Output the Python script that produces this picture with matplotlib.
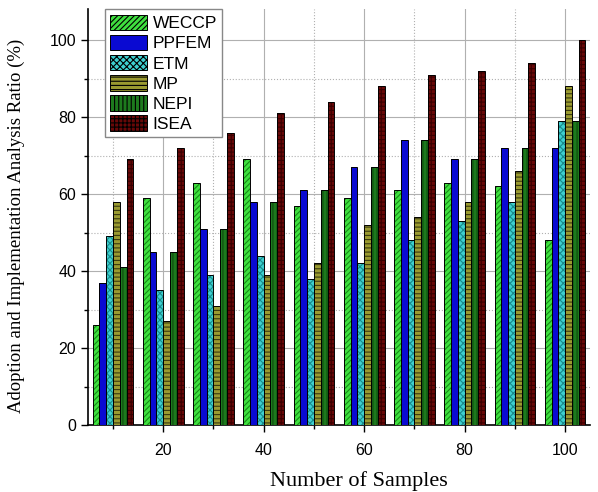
import matplotlib
matplotlib.use('Agg')
import matplotlib.pyplot as plt
from matplotlib.ticker import MultipleLocator
import numpy as np

samples = [10, 20, 30, 40, 50, 60, 70, 80, 90, 100]
methods = ['WECCP', 'PPFEM', 'ETM', 'MP', 'NEPI', 'ISEA']
weccp = [26, 59, 63, 69, 57, 59, 61, 63, 62, 48]
ppfem = [37, 45, 51, 58, 61, 67, 74, 69, 72, 72]
etm = [49, 35, 39, 44, 38, 42, 48, 53, 58, 79]
mp = [58, 27, 31, 39, 42, 52, 54, 58, 66, 88]
nepi = [41, 45, 51, 58, 61, 67, 74, 69, 72, 79]
isea = [69, 72, 76, 81, 84, 88, 91, 92, 94, 100]
series = [weccp, ppfem, etm, mp, nepi, isea]

faces = ['#3fe03f', '#0a0ad2', '#3ed0d0', '#9a9a30', '#1d7a1d', '#680808']
hatch_cols = ['#168a16', '#0a0ad2', '#1a8a8a', '#3a3a10', '#0e4a0e', '#3a0000']
hatches = ['//////', None, 'xxxxx', '----', '||||', '++++']

plt.rcParams['hatch.linewidth'] = 0.8

fig = plt.figure(figsize=(5.98, 4.92), dpi=100)
ax = fig.add_axes([0.147, 0.136, 0.84, 0.845])

x = np.array(samples, dtype=float)
w = 1.35
handles = []
for i, vals in enumerate(series):
    pos = x + (i - 2.5) * w
    ax.bar(pos, vals, width=w, color=faces[i], edgecolor=hatch_cols[i],
           hatch=hatches[i], linewidth=0, zorder=3)
    ax.bar(pos, vals, width=w, facecolor='none', edgecolor='black',
           linewidth=0.7, zorder=4)
    handles.append(plt.Rectangle((0, 0), 1, 1, facecolor=faces[i],
                                 edgecolor=hatch_cols[i], hatch=hatches[i],
                                 linewidth=0))

ax.set_xlim(5, 105)
ax.set_ylim(0, 108)
ax.xaxis.set_major_locator(MultipleLocator(20))
ax.xaxis.set_minor_locator(MultipleLocator(10))
ax.yaxis.set_major_locator(MultipleLocator(20))
ax.yaxis.set_minor_locator(MultipleLocator(10))
ax.grid(which='major', color='#b0b0b0', linewidth=0.8, zorder=0)
ax.grid(which='minor', color='#b0b0b0', linewidth=0.8, linestyle=':', zorder=0)
ax.set_axisbelow(True)

for s in ['top', 'right']:
    ax.spines[s].set_visible(False)
ax.spines['left'].set_linewidth(1.2)
ax.spines['bottom'].set_linewidth(1.2)
ax.tick_params(which='major', length=5, width=1, labelsize=11.5)
ax.tick_params(axis='x', which='major', pad=8)
ax.tick_params(which='minor', length=3, width=1)
for lab in ax.get_xticklabels() + ax.get_yticklabels():
    lab.set_fontfamily('Liberation Sans')

ax.set_xlabel('Number of Samples', fontfamily='Liberation Serif', fontsize=16)
ax.xaxis.set_label_coords(0.54, -0.11)
ax.set_ylabel('Adoption and Implementation Analysis Ratio (%)',
              fontfamily='Liberation Serif', fontsize=13.5)
ax.yaxis.set_label_coords(-0.125, 0.48)

leg = ax.legend(handles, methods, loc='upper left', bbox_to_anchor=(0.034, 1.0),
                borderaxespad=0,
                prop={'family': 'Liberation Sans', 'size': 12.5},
                handlelength=2.1, handleheight=1.0, labelspacing=0.2,
                handletextpad=0.35, borderpad=0.3, fancybox=False,
                edgecolor='#888888', framealpha=1)
for hnd in leg.legend_handles:
    hnd.set_edgecolor('black')
    hnd.set_linewidth(0.7)

fig.savefig('out.png', dpi=100)
